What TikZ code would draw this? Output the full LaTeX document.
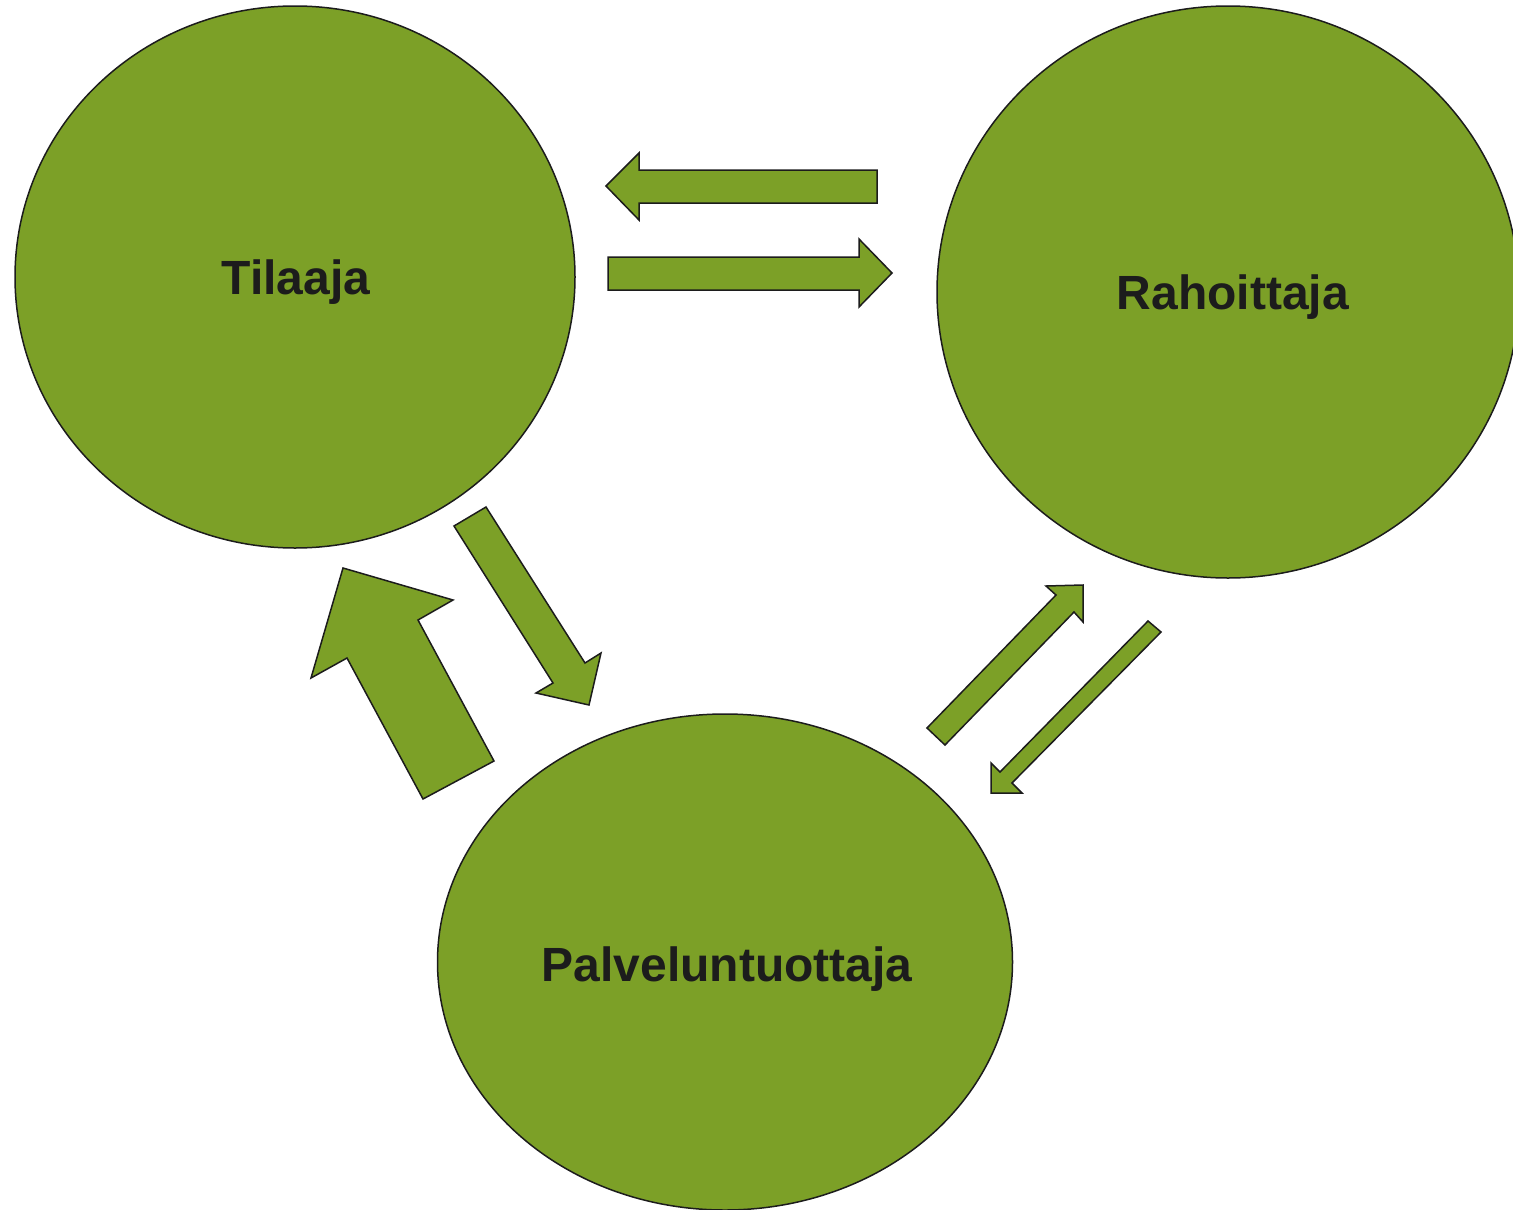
\documentclass[tikz,border=0pt]{standalone}
\usepackage{fontspec}
\setmainfont{Liberation Sans}
\usetikzlibrary{shapes.geometric}
\definecolor{leaf}{RGB}{124,160,39}
\definecolor{ink}{RGB}{28,28,28}
\begin{document}
\begin{tikzpicture}[x=1pt,y=-1pt,
  party/.style={ellipse,draw=ink,fill=leaf,line width=1.5pt,inner sep=0pt},
  partytext/.style={text=ink,inner sep=0pt,font=\fontsize{48}{56}\selectfont\bfseries},
  blockarrow/.style={draw=ink,fill=leaf,line width=1.5pt,line join=miter}]
\useasboundingbox (0,0) rectangle (1513,1210);
\clip (0,0) rectangle (1513,1210);
\node[party,minimum width=560pt,minimum height=542pt] (til) at (295,277) {};
\node[party,minimum width=582pt,minimum height=572pt] (rah) at (1228,292) {};
\node[party,minimum width=575pt,minimum height=496pt] (pal) at (725,962) {};
\node[partytext] (tilT) at ([shift={(1,5)}]til.center) {Tilaaja};
\node[partytext] (rahT) at ([shift={(5,5)}]rah.center) {Rahoittaja};
\node[partytext] (palT) at ([shift={(2,7)}]pal.center) {Palveluntuottaja};
% top: Rahoittaja -> Tilaaja
\draw[blockarrow] (877,170) -- (639,170) -- (639,153) -- (606,186) -- (639,220) -- (639,203) -- (877,203) -- cycle;
% Tilaaja -> Rahoittaja
\draw[blockarrow] (608,257) -- (859,257) -- (859,239) -- (892,273) -- (859,307) -- (859,290) -- (608,290) -- cycle;
% Tilaaja -> Palveluntuottaja
\draw[blockarrow] (454,526) -- (486,507) -- (585,663) -- (601,653) -- (589,705) -- (536,693) -- (553,683) -- cycle;
% Palveluntuottaja -> Tilaaja (big)
\draw[blockarrow] (423,799) -- (494,761) -- (418,620) -- (453,600) -- (343,568) -- (311,678) -- (347,658) -- cycle;
% Palveluntuottaja -> Rahoittaja
\draw[blockarrow] (927,728) -- (945,745) -- (1074,612) -- (1083,622) -- (1083,585) -- (1046,586) -- (1056,595) -- cycle;
% Rahoittaja -> Palveluntuottaja
\draw[blockarrow] (1148,621) -- (1161,632) -- (1012,783) -- (1022,793) -- (991,793) -- (991,763) -- (1000,772) -- cycle;
\end{tikzpicture}
\end{document}
